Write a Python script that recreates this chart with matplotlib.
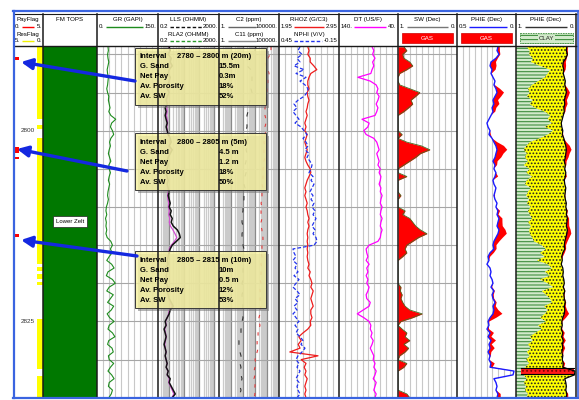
import numpy as np
import matplotlib
matplotlib.use("Agg")
import matplotlib.pyplot as plt
from matplotlib.patches import Rectangle
from matplotlib.transforms import blended_transform_factory

plt.rcParams['font.family'] = ['Liberation Sans', 'DejaVu Sans']
plt.rcParams['hatch.linewidth'] = 0.8

# ---------------- data ----------------
top_depth = 2788.9
base_depth = 2834.9
depth = np.arange(2789.0, 2835.01, 0.5)          # 93 samples
depth_grid = [2790, 2795, 2800, 2805, 2810, 2815, 2820, 2825, 2830]
depth_labels = [2800, 2825]

pay_top = [2790.4, 2802.2, 2803.4, 2813.6]
pay_base = [2790.8, 2802.9, 2803.7, 2813.9]
res_top = [2788.9, 2799.2, 2800.9, 2817.8, 2818.8, 2819.8, 2824.7, 2832.1]
res_base = [2798.5, 2799.8, 2817.5, 2818.4, 2819.4, 2820.2, 2831.2, 2834.9]

fm_names = ['Lower Zelt']
fm_top = [2788.9]
fm_base = [2834.9]

gr = [27, 28, 26, 27, 29, 27, 25, 26, 28, 27,
      26, 24, 26, 29, 28, 30, 32, 29, 34, 46,
      36, 33, 38, 41, 34, 31, 33, 30, 28, 31,
      34, 29, 30, 33, 30, 28, 31, 29, 27, 26,
      28, 26, 23, 22, 24, 21, 23, 22, 24, 22,
      25, 34, 38, 33, 37, 30, 24, 36, 42, 27,
      23, 38, 45, 30, 24, 40, 33, 26, 41, 35,
      25, 31, 42, 30, 27, 38, 44, 29, 26, 37,
      40, 28, 30, 41, 33, 27, 36, 42, 30, 28,
      38, 35, 29]

lls = [1.08, 1.26, 0.93, 1.47, 1.26, 1.72, 1.08, 0.93, 1.26, 1.08,
       0.93, 0.80, 1.08, 0.80, 0.68, 0.80, 0.59, 0.68, 0.59, 0.68,
       0.80, 0.68, 0.80, 0.93, 1.26, 1.47, 1.08, 1.72, 1.26, 0.93,
       0.80, 0.93, 0.80, 0.68, 0.80, 0.93, 0.80, 0.93, 1.08, 0.93,
       1.08, 1.26, 1.08, 1.47, 1.26, 1.72, 1.47, 2.00, 3.70, 5.00,
       5.80, 3.20, 1.72, 1.26, 1.08, 0.93, 0.80, 0.93, 0.68, 0.80,
       0.68, 0.80, 0.68, 0.93, 0.80, 0.93, 1.08, 1.47, 2.00, 1.26,
       1.08, 0.80, 0.59, 0.68, 0.50, 0.59, 0.68, 0.59, 0.50, 0.59,
       0.68, 0.59, 0.68, 0.80, 0.68, 0.93, 0.80, 1.26, 1.08, 1.47,
       2.00, 2.70, 1.72]

rla2 = [1.00, 1.15, 1.00, 1.30, 1.20, 1.50, 1.10, 1.00, 1.15, 1.05,
        1.00, 0.90, 1.10, 0.95, 0.80, 0.90, 0.75, 0.80, 0.70, 0.80,
        0.85, 0.75, 0.80, 0.90, 1.10, 1.30, 1.00, 1.40, 1.10, 0.90,
        0.80, 0.85, 0.75, 0.70, 0.75, 0.85, 0.75, 0.80, 0.90, 0.85,
        0.90, 1.00, 0.95, 1.10, 1.00, 1.20, 1.10, 1.30, 1.90, 2.60,
        3.40, 2.40, 1.50, 1.10, 1.00, 0.90, 0.80, 0.85, 0.70, 0.75,
        0.70, 0.75, 0.70, 0.85, 0.80, 0.85, 0.95, 1.20, 1.60, 1.10,
        1.00, 0.80, 0.62, 0.70, 0.55, 0.62, 0.70, 0.62, 0.55, 0.60,
        0.68, 0.60, 0.68, 0.78, 0.70, 0.88, 0.80, 1.10, 1.00, 1.30,
        1.70, 2.20, 1.60]

c2 = [1200, 1000, 680, 320, 147, 215, 460, 680, 560, 560,
      560, 460, 560, 380, 380, 320, 260, 260, 215, 215,
      215, 215, 180, 215, 260, 215, 215, 180, 215, 180,
      180, 147, 147, 180, 147, 147, 120, 147, 120, 120,
      120, 100, 100, 100, 83, 83, 83, 100, 100, 83,
      83, 100, 100, 120, 100, 100, 100, 83, 100, 100,
      100, 100, 83, 100, 100, 83, 83, 83, 100, 83,
      83, 100, 83, 83, 68, 68, 56, 46, 46, 56,
      56, 68, 68, 56, 68, 56, 68, 83, 68, 56,
      68, 56, 68]

c11 = [21500, 21500, 17800, 12000, 6800, 8250, 12000, 14700, 12000, 12000,
       12000, 10000, 10000, 8250, 8250, 8250, 6800, 6800, 6800, 8250,
       8250, 6800, 8250, 6800, 6800, 5600, 6800, 5600, 5600, 6800,
       5600, 5600, 4600, 5600, 4600, 4600, 3800, 4600, 3800, 3800,
       3800, 3200, 3800, 3200, 3200, 3800, 3200, 3200, 3800, 3800,
       4600, 4600, 3800, 3800, 3200, 3800, 3200, 3200, 3800, 3200,
       3200, 2600, 3200, 2600, 2600, 3200, 2600, 2600, 3200, 2600,
       2600, 2150, 2150, 2600, 2150, 1800, 1800, 1500, 1500, 1800,
       1500, 1200, 1000, 1200, 1000, 830, 1000, 830, 1000, 1000,
       830, 1000, 830]

rhoz = [2.43, 2.45, 2.43, 2.47, 2.47, 2.53, 2.58, 2.48, 2.45, 2.43,
        2.43, 2.45, 2.42, 2.43, 2.45, 2.43, 2.42, 2.40, 2.42, 2.40,
        2.38, 2.40, 2.38, 2.42, 2.40, 2.38, 2.40, 2.42, 2.40, 2.38,
        2.40, 2.43, 2.47, 2.48, 2.45, 2.42, 2.40, 2.38, 2.40, 2.38,
        2.40, 2.42, 2.40, 2.42, 2.43, 2.45, 2.43, 2.45, 2.43, 2.42,
        2.43, 2.42, 2.43, 2.42, 2.43, 2.42, 2.43, 2.45, 2.43, 2.47,
        2.45, 2.48, 2.50, 2.48, 2.52, 2.50, 2.48, 2.50, 2.52, 2.48,
        2.48, 2.50, 2.47, 2.48, 2.43, 2.35, 2.28, 2.32, 2.27, 2.30,
        2.13, 2.60, 2.32, 2.40, 2.37, 2.40, 2.38, 2.42, 2.40, 2.38,
        2.40, 2.38, 2.40]

nphi = [0.24, 0.26, 0.22, 0.27, 0.24, 0.30, 0.20, 0.28, 0.18, 0.24,
        0.19, 0.16, 0.17, 0.20, 0.26, 0.30, 0.27, 0.31, 0.28, 0.25,
        0.29, 0.23, 0.20, 0.17, 0.21, 0.18, 0.16, 0.19, 0.15, 0.17,
        0.14, 0.12, 0.13, 0.15, 0.11, 0.13, 0.10, 0.12, 0.14, 0.11,
        0.13, 0.10, 0.12, 0.09, 0.11, 0.08, 0.10, 0.12, 0.09, 0.11,
        0.08, 0.07, 0.10, 0.31, 0.30, 0.28, 0.31, 0.27, 0.29, 0.26,
        0.30, 0.25, 0.28, 0.31, 0.27, 0.24, 0.29, 0.26, 0.30, 0.27,
        0.31, 0.28, 0.25, 0.29, 0.26, 0.28, 0.24, 0.21, 0.23, 0.19,
        0.22, 0.26, 0.28, 0.25, 0.27, 0.24, 0.26, 0.28, 0.25, 0.27,
        0.26, 0.24, 0.27]

dt = [84, 81, 83, 79, 83, 81, 84, 86, 108, 87,
      77, 74, 76, 72, 74, 77, 74, 76, 79, 101,
      89, 91, 98, 94, 81, 76, 74, 72, 76, 74,
      72, 74, 70, 72, 69, 70, 72, 69, 70, 67,
      69, 70, 67, 69, 70, 67, 69, 70, 67, 69,
      70, 74, 89, 94, 93, 91, 94, 89, 93, 91,
      94, 91, 93, 89, 91, 94, 93, 87, 89, 99,
      109, 98, 89, 86, 87, 84, 86, 82, 84, 87,
      84, 81, 82, 79, 81, 77, 79, 82, 77, 79,
      81, 77, 79]

sw = [0.90, 0.85, 0.92, 0.90, 0.80, 0.75, 0.85, 0.97, 1.00, 1.00,
      0.97, 0.80, 0.63, 0.70, 0.78, 0.75, 0.82, 0.90, 1.00, 1.00,
      1.00, 1.00, 1.00, 0.93, 1.00, 0.85, 0.60, 0.46, 0.62, 0.70,
      0.80, 0.90, 1.00, 1.00, 0.85, 1.00, 1.00, 1.00, 1.00, 0.95,
      1.00, 1.00, 1.00, 0.88, 0.92, 0.80, 0.75, 0.70, 0.62, 0.51,
      0.65, 0.75, 0.85, 0.88, 0.85, 0.92, 1.00, 1.00, 1.00, 1.00,
      1.00, 1.00, 1.00, 0.95, 0.96, 0.93, 0.95, 0.92, 0.88, 0.80,
      0.59, 0.75, 0.95, 1.00, 0.93, 0.85, 0.88, 0.80, 0.90, 0.82,
      0.88, 0.97, 1.00, 0.85, 0.90, 1.00, 1.00, 1.00, 1.00, 1.00,
      1.00, 0.85, 0.80]

phie = [0.153, 0.161, 0.144, 0.170, 0.212, 0.220, 0.203, 0.212, 0.195, 0.178,
        0.187, 0.170, 0.161, 0.178, 0.195, 0.187, 0.203, 0.195, 0.212, 0.229,
        0.246, 0.237, 0.220, 0.229, 0.203, 0.187, 0.170, 0.161, 0.170, 0.178,
        0.195, 0.178, 0.187, 0.170, 0.178, 0.195, 0.187, 0.170, 0.178, 0.187,
        0.178, 0.161, 0.170, 0.153, 0.161, 0.144, 0.153, 0.161, 0.144, 0.153,
        0.170, 0.187, 0.195, 0.187, 0.220, 0.237, 0.229, 0.246, 0.220, 0.212,
        0.220, 0.203, 0.195, 0.212, 0.187, 0.203, 0.195, 0.178, 0.195, 0.187,
        0.195, 0.220, 0.237, 0.229, 0.246, 0.220, 0.237, 0.212, 0.229, 0.220,
        0.237, 0.220, 0.229, 0.212, 0.220, 0.017, 0.025, 0.187, 0.170, 0.161,
        0.170, 0.153, 0.161]

vcl = [0.18, 0.23, 0.22, 0.28, 0.25, 0.40, 0.57, 0.53, 0.48, 0.37,
       0.27, 0.20, 0.23, 0.18, 0.28, 0.23, 0.32, 0.48, 0.57, 0.53,
       0.60, 0.48, 0.62, 0.53, 0.40, 0.23, 0.17, 0.13, 0.18, 0.15,
       0.20, 0.13, 0.23, 0.17, 0.27, 0.18, 0.15, 0.25, 0.20, 0.17,
       0.22, 0.18, 0.25, 0.20, 0.23, 0.27, 0.20, 0.25, 0.22, 0.23,
       0.27, 0.30, 0.43, 0.50, 0.40, 0.48, 0.35, 0.53, 0.60, 0.48,
       0.57, 0.40, 0.53, 0.62, 0.43, 0.50, 0.57, 0.60, 0.47, 0.53,
       0.48, 0.40, 0.50, 0.37, 0.43, 0.32, 0.23, 0.28, 0.20, 0.25,
       0.18, 0.23, 0.17, 0.22, 0.15, 0.18, 0.13, 0.18, 0.13, 0.17,
       0.15, 0.20, 0.17]

streak_top = [2831.1]
streak_base = [2831.9]

interval_text = ['2780 \u2013 2800 m (20m)', '2800 \u2013 2805 m (5m)', '2805 \u2013 2815 m (10m)']
row_labels = ['G. Sand', 'Net Pay', 'Av. Porosity', 'Av. SW']
gross_sand = ['15.5m', '4.5 m', '10m']
net_pay = ['0.3m', '1.2 m', '0.5 m']
avg_por = ['18%', '18%', '12%']
avg_sw = ['52%', '50%', '53%']

# ---------------- layout ----------------
W, H = 579, 400
Y_TOP, Y_BOT = 46, 397
box_tops = [48, 133, 251]
arrow_tail = [(135, 81), (127, 171), (137, 256)]
arrow_head = [(21, 62), (17, 149), (21, 240)]
separators = [43, 97, 158, 219, 279, 339, 398, 457, 516, 576]

fig = plt.figure(figsize=(5.79, 4.0), dpi=100)
fig.patch.set_facecolor('white')


def track(x0, x1, xlim, scale='linear'):
    ax = fig.add_axes([x0 / W, 1 - Y_BOT / H, (x1 - x0) / W, (Y_BOT - Y_TOP) / H])
    if scale == 'log':
        ax.set_xscale('log')
    ax.set_xlim(*xlim)
    ax.set_ylim(base_depth, top_depth)
    ax.tick_params(which='both', length=0, labelbottom=False, labelleft=False)
    for s in ax.spines.values():
        s.set_visible(False)
    return ax


def hide(ax):
    ax.tick_params(which='both', length=0, labelbottom=False, labelleft=False,
                   labeltop=False, labelright=False)
    for s in ax.spines.values():
        s.set_visible(False)


def hgrid(ax):
    for d in depth_grid:
        ax.axhline(d, color='#a6a6a6', lw=0.8, zorder=0.6)


def vgrid(ax, a, b, n=10):
    for v in np.linspace(a, b, n + 1)[1:-1]:
        ax.axvline(v, color='#c8c8c8', lw=0.8, zorder=0.5)


def vgrid_log(ax, a, b):
    e0, e1 = int(np.floor(np.log10(a))), int(np.ceil(np.log10(b)))
    for e in range(e0, e1 + 1):
        for k in range(1, 10):
            v = k * 10.0 ** e
            if a < v < b:
                ax.axvline(v, color='#8a8a8a' if k == 1 else '#cbcbcb',
                           lw=0.9, zorder=0.5)


phie_a = np.array(phie)
sw_a = np.array(sw)
bvw = phie_a * sw_a

# Pay / Res flags
ax_pay = track(13, 43, (0, 5))
for t, b in zip(pay_top, pay_base):
    ax_pay.fill_betweenx([t, b], 0, 1, color='#ff0000', lw=0)
ax_rf = ax_pay.twiny()
hide(ax_rf)
ax_rf.set_xlim(5, 0)
for t, b in zip(res_top, res_base):
    ax_rf.fill_betweenx([t, b], 0, 1, color='#ffff00', lw=0)
tr = blended_transform_factory(ax_pay.transAxes, ax_pay.transData)
for d in depth_labels:
    ax_pay.text(0.5, d, str(d), transform=tr, ha='center', va='center',
                fontsize=4.6, color='#333333')

# FM tops
ax_fm = track(43, 97, (0, 1))
for name, t, b in zip(fm_names, fm_top, fm_base):
    ax_fm.fill_betweenx([t, b], 0, 1, color='#007800', lw=0)
    ax_fm.text(0.5, (t + b) / 2, name, ha='center', va='center', fontsize=4.3,
               bbox=dict(boxstyle='square,pad=0.5', facecolor='white',
                         edgecolor='#222222', lw=0.5))

# GR
ax_gr = track(97, 158, (0, 150))
vgrid(ax_gr, 0, 150)
hgrid(ax_gr)
ax_gr.plot(gr, depth, color='#1e8c1e', lw=0.8, zorder=2)

# Resistivity
ax_res = track(158, 219, (0.2, 2000), 'log')
vgrid_log(ax_res, 0.2, 2000)
hgrid(ax_res)
ax_res.plot(rla2, depth, color='#d24fd2', lw=0.9, zorder=2)
ax_res.plot(lls, depth, color='#111111', lw=1.1, zorder=3)

# Gas
ax_gas = track(219, 279, (1, 1e5), 'log')
vgrid_log(ax_gas, 1, 1e5)
hgrid(ax_gas)
ax_gas.plot(c2, depth, color='#333333', lw=0.8, ls=(0, (4, 7)), zorder=2)
ax_gas.plot(c11, depth, color='#e23a3a', lw=0.8, ls=(0, (3, 5)), zorder=2)

# Density / Neutron
ax_den = track(279, 339, (1.95, 2.95))
vgrid(ax_den, 1.95, 2.95)
hgrid(ax_den)
ax_den.plot(rhoz, depth, color='#ee1c1c', lw=0.9, zorder=2)
ax_np = ax_den.twiny()
hide(ax_np)
ax_np.set_xlim(0.45, -0.15)
ax_np.plot(nphi, depth, color='#2233ee', lw=0.9, ls=(0, (3, 1.6)), zorder=2)

# DT
ax_dt = track(339, 398, (140, 40))
vgrid(ax_dt, 140, 40)
hgrid(ax_dt)
ax_dt.plot(dt, depth, color='#ff00ff', lw=0.9, zorder=2)

# SW
ax_sw = track(398, 457, (1, 0))
vgrid(ax_sw, 1, 0)
hgrid(ax_sw)
ax_sw.fill_betweenx(depth, sw_a, 1, color='#ff0000', lw=0, zorder=1)
ax_sw.plot(sw_a, depth, color='#4a6b22', lw=0.6, zorder=2)

# PHIE
ax_ph = track(457, 516, (0.5, 0))
vgrid(ax_ph, 0.5, 0)
ax_ph.fill_betweenx(depth, phie_a, 0, color='white', lw=0, zorder=0.9)
ax_ph.fill_betweenx(depth, phie_a, bvw, where=bvw < phie_a - 1e-4,
                    interpolate=True, color='#ff0000', lw=0, zorder=1)
ax_ph.plot(phie_a, depth, color='#1a1aff', lw=1.0, zorder=2)

# Lithology / porosity
ax_li = track(516, 576, (1, 0))
vcl_a = np.array(vcl)
ax_li.fill_betweenx(depth, 1, 1 - vcl_a, facecolor='#d2eacb', hatch='-----',
                    edgecolor='#3f8f3f', lw=0, zorder=1)
ax_li.fill_betweenx(depth, 1 - vcl_a, phie_a, facecolor='#ffff00', hatch='.....',
                    edgecolor='#222222', lw=0, zorder=1)
ax_li.fill_betweenx(depth, phie_a, bvw, where=bvw < phie_a - 1e-4,
                    interpolate=True, color='#ff0000', lw=0, zorder=1.2)
for t, b in zip(streak_top, streak_base):
    ax_li.fill_betweenx([t, b], 0.92, 0.04, facecolor='#ff1a1a', hatch='....',
                        edgecolor='#7a0000', lw=0, zorder=1.5)
    ax_li.plot([0.92, 0.04], [t, t], color='black', lw=0.8, zorder=2)
    ax_li.plot([0.92, 0.04], [b, b], color='black', lw=0.8, zorder=2)
ax_li.plot(phie_a, depth, color='black', lw=0.9, zorder=2)

# ---------------- overlay (header, boxes, arrows) ----------------
ax0 = fig.add_axes([0, 0, 1, 1], zorder=10)
ax0.set_xlim(0, W)
ax0.set_ylim(H, 0)
ax0.axis('off')
ax0.patch.set_visible(False)

HF = 4.4
R1T, R1L, R2T, R2L = 19.5, 26.5, 34.3, 41.0


def scale_row(x0, x1, y, left, right, color, ls='-', lw=1.0):
    ax0.text(x0 + 1.5, y, left, fontsize=HF, ha='left', va='center')
    ax0.text(x1 - 1.5, y, right, fontsize=HF, ha='right', va='center')
    wl = 2.9 * len(left) + 3
    wr = 2.9 * len(right) + 3
    ax0.plot([x0 + wl, x1 - wr], [y, y], color=color, lw=lw, ls=ls,
             solid_capstyle='butt')


headers = [
    (13, 43, [('PayFlag', '0.', '5.', '#ff0000', '-'),
              ('ResFlag', '5.', '0.', '#f2f200', '-')]),
    (97, 158, [('GR (GAPI)', '0.', '150.', '#1e8c1e', '-')]),
    (158, 219, [('LLS (OHMM)', '0.2', '2000.', '#111111', (0, (2.5, 1.5))),
                ('RLA2 (OHMM)', '0.2', '2000.', '#2c9a2c', (0, (2.5, 1.5)))]),
    (219, 279, [('C2 (ppm)', '1.', '100000.', '#666666', '-'),
                ('C11 (ppm)', '1.', '100000.', '#888888', '-')]),
    (279, 339, [('RHOZ (G/C3)', '1.95', '2.95', '#ee1c1c', '-'),
                ('NPHI (V/V)', '0.45', '-0.15', '#2233ee', (0, (2.5, 1.5)))]),
    (339, 398, [('DT (US/F)', '140.', '40.', '#ff00ff', '-')]),
    (398, 457, [('SW (Dec)', '1.', '0.', '#777777', '-')]),
    (457, 516, [('PHIE (Dec)', '0.5', '0.', '#1a1aff', '-')]),
    (516, 576, [('PHIE (Dec)', '1.', '0.', '#333333', '-')]),
]
for x0, x1, rows in headers:
    for k, (title, left, right, col, ls) in enumerate(rows):
        yt, yl = (R1T, R1L) if k == 0 else (R2T, R2L)
        ax0.text((x0 + x1) / 2, yt, title, fontsize=HF, ha='center', va='center')
        scale_row(x0, x1, yl, left, right, col, ls)
ax0.text(70, R1T, 'FM TOPS', fontsize=HF, ha='center', va='center')

for x0 in (402, 461):
    ax0.add_patch(Rectangle((x0, 33), 51, 10, facecolor='#ff0000',
                            edgecolor='#cc0000', lw=0.5))
    ax0.text(x0 + 25.5, 38, 'GAS', fontsize=HF, ha='center', va='center',
             color='white')
ax0.add_patch(Rectangle((520, 33), 53, 10, facecolor='#d2eacb', hatch='----',
                        edgecolor='#3f8f3f', lw=0.6, ls=(0, (2, 1))))
ax0.text(546.5, 38, 'CLAY', fontsize=HF, ha='center', va='center',
         color='#222222',
         bbox=dict(boxstyle='square,pad=0.1', facecolor='#d2eacb', lw=0))

# interval annotation boxes
BF = 5.5
for k, top in enumerate(box_tops):
    ax0.add_patch(Rectangle((137.5, top + 2.5), 131, 57, facecolor='#777777',
                            alpha=0.55, lw=0, zorder=1.8))
    ax0.add_patch(Rectangle((135, top), 131, 57,
                            facecolor=(0.965, 0.945, 0.63, 0.84),
                            edgecolor='#3a3a3a', lw=0.7, zorder=2))
    ax0.text(140, top + 9, 'Interval', fontsize=BF, fontweight='bold',
             ha='left', va='center', zorder=5)
    ax0.text(177, top + 9, interval_text[k], fontsize=BF, fontweight='bold',
             ha='left', va='center', zorder=5)
    vals = [gross_sand[k], net_pay[k], avg_por[k], avg_sw[k]]
    for j, (lab, val) in enumerate(zip(row_labels, vals)):
        yy = top + 19 + 10 * j
        ax0.text(140, yy, lab, fontsize=BF, fontweight='bold', ha='left',
                 va='center', zorder=5)
        ax0.text(219, yy, val, fontsize=BF, fontweight='bold', ha='left',
                 va='center', zorder=5)

# track separators and frame
for x in separators:
    ax0.plot([x, x], [13.5, Y_BOT], color='#1a1a1a', lw=1.1, zorder=3)
ax0.plot([13.5, 577], [13.5, 13.5], color='#1a1a1a', lw=0.8, zorder=3)
ax0.plot([13.5, 577], [45.5, 45.5], color='#1a1a1a', lw=1.0, zorder=3)
ax0.plot([13, 578.5], [11, 11], color='#3a64e0', lw=1.6, zorder=3)
ax0.plot([13.5, 13.5], [11, 398], color='#3a64e0', lw=1.6, zorder=3)
ax0.plot([13, 578.5], [397.8, 397.8], color='#3a64e0', lw=1.6, zorder=3)
ax0.plot([578, 578], [11, 398], color='#3a64e0', lw=1.2, zorder=3)

# arrows
for (tx, ty), (hx, hy) in zip(arrow_tail, arrow_head):
    ax0.annotate('', xy=(hx, hy), xytext=(tx, ty),
                 arrowprops=dict(arrowstyle='-|>,head_length=0.65,head_width=0.32',
                                 color='#1428e0', lw=2.4, shrinkA=0, shrinkB=0),
                 zorder=6)

fig.savefig('out.png', dpi=100)
